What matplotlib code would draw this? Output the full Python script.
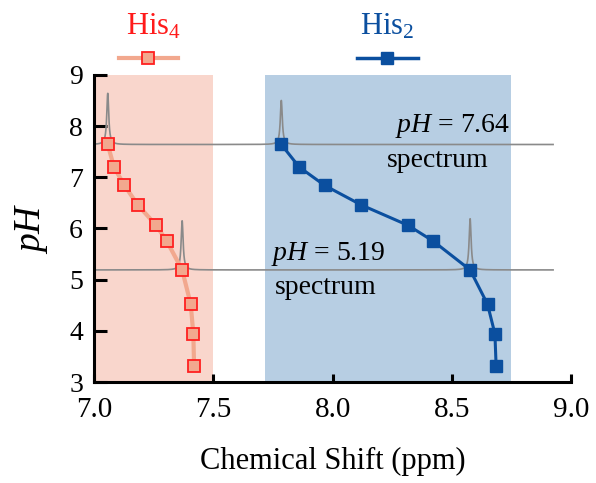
import numpy as np
import matplotlib.pyplot as plt

plt.rcParams['font.family'] = 'Liberation Serif'
plt.rcParams['mathtext.fontset'] = 'custom'
plt.rcParams['mathtext.rm'] = 'Liberation Serif'
plt.rcParams['mathtext.it'] = 'Liberation Serif:italic'

ph = [7.64, 7.20, 6.84, 6.46, 6.06, 5.75, 5.19, 4.52, 3.94, 3.32]
his4_shift = [7.057, 7.083, 7.127, 7.183, 7.26, 7.305, 7.369, 7.405, 7.416, 7.419]
his2_shift = [7.785, 7.86, 7.967, 8.12, 8.317, 8.423, 8.577, 8.65, 8.681, 8.686]

# spectra shown at two pH values: (pH, His4 peak height, His2 peak height)
spectra = [(7.64, 1.0, 0.86), (5.19, 0.96, 1.0)]

his4_band = (7.0, 7.5)
his2_band = (7.715, 8.75)

fig = plt.figure(figsize=(5.96, 4.83), dpi=100)
ax = fig.add_axes([0.158, 0.209, 0.800, 0.636])

ax.axvspan(*his4_band, ymin=0, ymax=1, color='#f9d6cc', lw=0, zorder=0)
ax.axvspan(*his2_band, ymin=0, ymax=1, color='#b7cee3', lw=0, zorder=0)

# model NMR spectra, narrow Lorentzian lines
x = np.linspace(7.0, 8.925, 3000)
w = 0.005
for p, h4, h2 in spectra:
    c4 = his4_shift[ph.index(p)]
    c2 = his2_shift[ph.index(p)]
    y = p + h4 / (1 + ((x - c4) / w) ** 2) + h2 / (1 + ((x - c2) / w) ** 2)
    ax.plot(x, y, color='#8a8a8a', lw=1.2, zorder=2)

ax.plot(his4_shift, ph, color='#f2a88e', lw=3, marker='s', ms=9,
        mfc='#f2a88e', mec='#ff2020', mew=1.3, zorder=3, clip_on=False)
ax.plot(his2_shift, ph, color='#0b4f9f', lw=2.2, marker='s', ms=9,
        mfc='#0b4f9f', mec='#0b4f9f', zorder=3, clip_on=False)

ax.text(8.745, 7.72, r'$pH$ = 7.64', ha='right', va='bottom', fontsize=20)
ax.text(8.44, 7.33, 'spectrum', ha='center', va='center', fontsize=20)
ax.text(7.74, 5.22, r'$pH$ = 5.19', ha='left', va='bottom', fontsize=20)
ax.text(7.97, 4.84, 'spectrum', ha='center', va='center', fontsize=20)

ax.set_xlim(7.0, 9.0)
ax.set_ylim(3, 9)
ax.set_xticks([7.0, 7.5, 8.0, 8.5, 9.0])
ax.set_xticklabels(['7.0', '7.5', '8.0', '8.5', '9.0'])
ax.set_yticks(range(3, 10))
ax.spines['top'].set_visible(False)
ax.spines['right'].set_visible(False)
for s in ['left', 'bottom']:
    ax.spines[s].set_linewidth(2.2)
ax.tick_params(axis='both', direction='in', width=2.2)
ax.tick_params(axis='y', length=9, pad=8, labelsize=20)
ax.tick_params(axis='x', length=6, pad=11, labelsize=21)
ax.set_xlabel('Chemical Shift (ppm)', fontsize=22, labelpad=17)
ax.set_ylabel(r'$pH$', fontsize=27, labelpad=14)

# legend entries above the plot
fig.text(153 / 596, 1 - 27 / 483, r'His$_4$', color='#ff1a1a', fontsize=22,
         ha='center', va='center')
fig.text(387 / 596, 1 - 27 / 483, r'His$_2$', color='#0b4f9f', fontsize=22,
         ha='center', va='center')
lx = fig.add_axes([0, 0, 1, 1], facecolor='none')
lx.set_xlim(0, 596)
lx.set_ylim(483, 0)
lx.axis('off')
lx.plot([119, 178], [58, 58], color='#f2a88e', lw=3)
lx.plot([148], [58], marker='s', ms=9, mfc='#f2a88e', mec='#ff2020', mew=1.3)
lx.plot([357, 418], [58, 58], color='#0b4f9f', lw=2.5)
lx.plot([387], [58], marker='s', ms=9, mfc='#0b4f9f', mec='#0b4f9f')

fig.savefig('out.png', dpi=100)
